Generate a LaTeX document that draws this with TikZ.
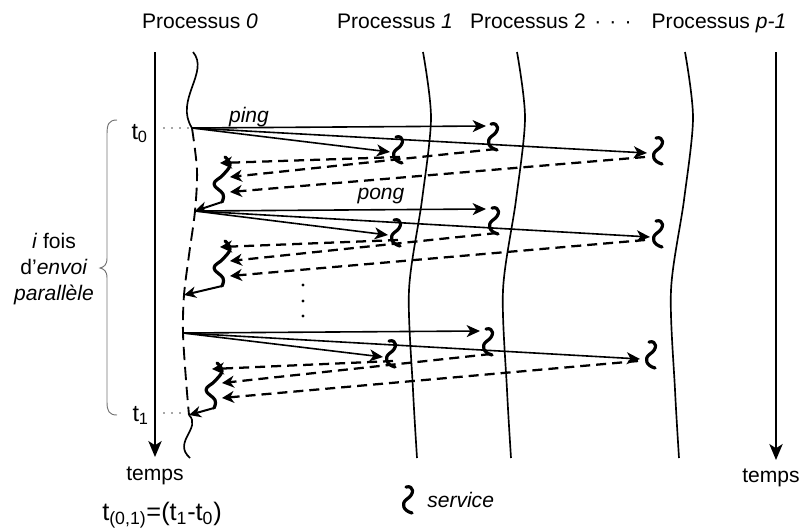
\documentclass[tikz,border=0pt]{standalone}
\usepackage{fontspec}
\setmainfont{Liberation Sans}
\usetikzlibrary{arrows.meta,calc}
\tikzset{
  proc/.style={line width=1.25pt},
  msg/.style={line width=1.2pt,-{Stealth[length=10pt,width=9pt,inset=2.8pt]}},
  ret/.style={line width=1.7pt,dash pattern=on 7.5pt off 4.5pt,-{Stealth[length=9pt,width=9pt,inset=2.8pt]}},
  back/.style={line width=1.5pt,-{Stealth[length=9pt,width=8.5pt,inset=2.8pt]}},
  squig/.style={line width=2.4pt,line cap=round,line join=round},
  axis/.style={line width=1.25pt,-{Stealth[length=12pt,width=10pt,inset=3.2pt]}},
  lbl/.style={inner sep=0pt,anchor=base},
  tdots/.style={line width=1.2pt,line cap=round,dash pattern=on 0pt off 6pt,black!70},
  svc/.pic={\draw[squig] (-1,-13) .. controls (7,-15) and (8,-6) .. (0,-1) .. controls (-7,4) and (-3,11) .. (5,13);
    \coordinate (-e) at (4,12); \coordinate (-l) at (-12,6); \coordinate (-r) at (3,7);},
  rsq/.pic={\draw[squig] plot[smooth,tension=0.7] coordinates {(0,0) (5,8) (-2,18) (-11,27) (-2,37) (-3,45)};
    \coordinate (-t) at (-5,6); \coordinate (-m) at (5,20); \coordinate (-b) at (5,35); \coordinate (-e) at (-3,45);}
}
\begin{document}
\begin{tikzpicture}[x=0.75pt,y=-0.75pt,font=\fontsize{15.8}{18}\selectfont]
\useasboundingbox (0,0) rectangle (802,529);

% titles
\node[lbl] (p0) at (200,28) {Processus \textit{0}};
\node[lbl] (p1) at (395,28) {Processus \textit{1}};
\node[lbl] (p2) at (528,28) {Processus 2};
\node[lbl] (pd) at (613,28) {·\hspace{6pt}·\hspace{6pt}·};
\node[lbl] (pp) at (719,28) {Processus \textit{p-1}};

% time axes
\coordinate (la0) at (155,52); \coordinate (la1) at (155,457);
\coordinate (ra0) at (776,52); \coordinate (ra1) at (776,460);
\draw[axis] (la0) -- (la1);
\draw[axis] (ra0) -- (ra1);
\node[lbl] (tl) at (155,480) {temps};
\node[lbl] (tr) at (771,482) {temps};

% process lines 1, 2, p-1
\foreach \x in {423,517,685}
  \draw[proc,shift={(\x,0)}] plot[smooth] coordinates {(0,52) (8,118) (-1,200) (-14,290) (-10,390) (-6,458)};

% process 0
\coordinate (o1) at (192,128);
\coordinate (o2) at (195,211);
\coordinate (q2) at (184,295);
\coordinate (o3) at (183,333);
\coordinate (o4) at (189,415);
\draw[proc] (193,52) .. controls (210,72) and (174,100) .. (o1);
\draw[proc,line width=1.4pt,dash pattern=on 10pt off 5pt] plot[smooth] coordinates {(o1) (197,170) (o2) (189,255) (q2) (o3) (186,380) (o4)};
\draw[proc] (o4) .. controls (202,428) and (172,442) .. (190,458);

% t0, t1
\node[lbl,anchor=base east,font=\fontsize{17.5}{20}\selectfont] (t0) at (148,139) {t\textsubscript{0}};
\node[lbl,anchor=base east,font=\fontsize{17.5}{20}\selectfont] (t1) at (149,421) {t\textsubscript{1}};
\coordinate (d0) at (164,128); \coordinate (d1) at (164,413);
\draw[tdots] (d0) -- (o1);
\draw[tdots] (d1) -- (185,413);

% brace and side label
\draw[black!55,line width=0.7pt] (117,120) .. controls (109,120) and (107,124) .. (107,134) -- (107,258)
   .. controls (107,265) and (104,267) .. (100,268) .. controls (104,269) and (107,271) .. (107,278)
   -- (107,402) .. controls (107,411) and (109,415) .. (117,415);
\node[align=center,font=\fontsize{15.8}{19.5}\selectfont] (lab) at (54,269) {\textit{i} fois\\ d'\textit{envoi}\\ \textit{parallèle}};

% labels
\node[lbl] (ping) at (249,122) {\textit{ping}};
\node[lbl] (pong) at (381,199) {\textit{pong}};

% group 1
\coordinate (a1) at (486,126); \coordinate (b1) at (390,152); \coordinate (c1) at (647,153);
\draw[msg] (o1) -- (a1);
\draw[msg] (o1) -- (b1);
\draw[msg] (o1) -- (c1);
\pic (A1) at (492,137) {svc};
\pic (B1) at (397,150) {svc};
\pic (C1) at (657,151) {svc};
\pic (R1) at (225,157) {rsq};
\draw[ret] (B1-r) -- (R1-t);
\draw[ret] (A1-e) -- (R1-m);
\draw[ret] (C1-l) -- (R1-b);
\draw[back] (R1-e) -- (o2);

% group 2
\coordinate (a2) at (486,209); \coordinate (b2) at (388,235); \coordinate (c2) at (650,237);
\draw[msg] (o2) -- (a2);
\draw[msg] (o2) -- (b2);
\draw[msg] (o2) -- (c2);
\pic (A2) at (493,221) {svc};
\pic (B2) at (395,233) {svc};
\pic (C2) at (657,234) {svc};
\pic (R2) at (225,241) {rsq};
\draw[ret] (B2-r) -- (R2-t);
\draw[ret] (A2-e) -- (R2-m);
\draw[ret] (C2-l) -- (R2-b);
\draw[back] (R2-e) -- (q2);

% vertical dots
\foreach \y in {285,301,316} \fill (303,\y) circle[radius=1.2pt];

% group 3
\coordinate (a3) at (480,331); \coordinate (b3) at (383,357); \coordinate (c3) at (640,359);
\draw[msg] (o3) -- (a3);
\draw[msg] (o3) -- (b3);
\draw[msg] (o3) -- (c3);
\pic (A3) at (487,342) {svc};
\pic (B3) at (390,354) {svc};
\pic (C3) at (650,355) {svc};
\pic (R3) at (217,363) {rsq};
\draw[ret] (B3-r) -- (R3-t);
\draw[ret] (A3-e) -- (R3-m);
\draw[ret] (C3-l) -- (R3-b);
\draw[back] (R3-e) -- (o4);

% legend and formula
\pic (L) at (407,500) {svc};
\node[lbl,anchor=base west] (serv) at (427,507) {\textit{service}};
\node[lbl,font=\fontsize{19}{22}\selectfont] (form) at (162,520) {t\textsubscript{(0,1)}=(t\textsubscript{1}-t\textsubscript{0})};
\end{tikzpicture}
\end{document}
